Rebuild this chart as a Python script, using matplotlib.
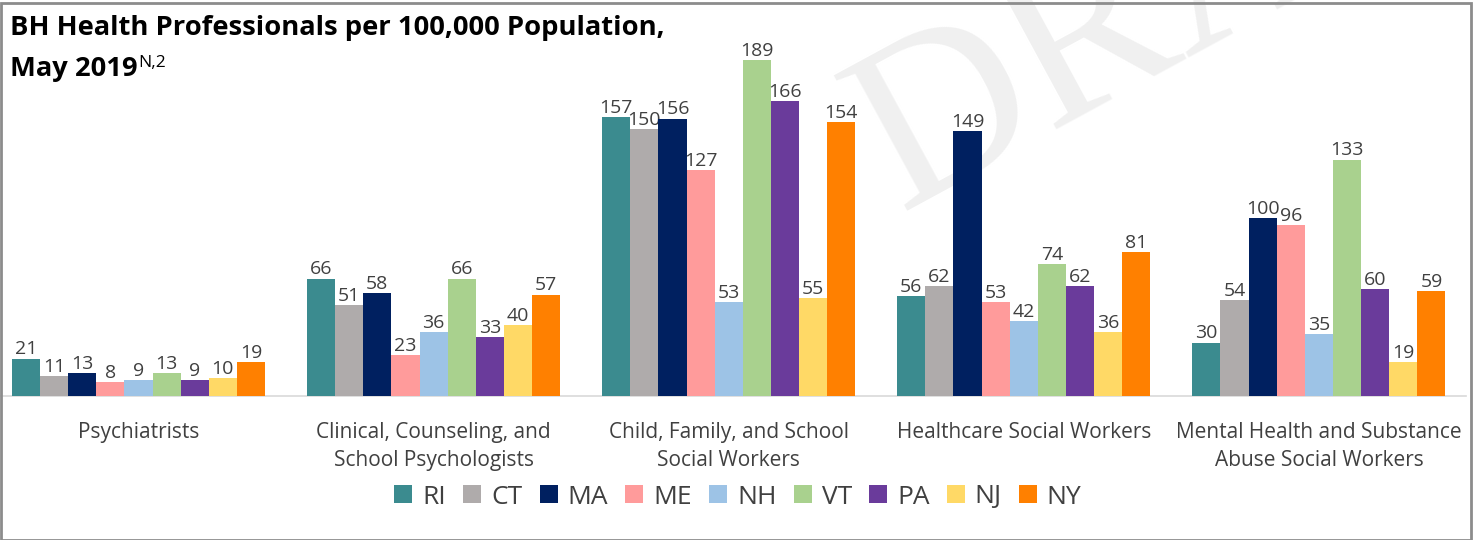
import matplotlib
matplotlib.use("Agg")
import matplotlib.pyplot as plt
from matplotlib.patches import Rectangle
import numpy as np

categories = ["Psychiatrists",
              "Clinical, Counseling, and\nSchool Psychologists",
              "Child, Family, and School\nSocial Workers",
              "Healthcare Social Workers",
              "Mental Health and Substance\nAbuse Social Workers"]
states = ["RI", "CT", "MA", "ME", "NH", "VT", "PA", "NJ", "NY"]
colors = ["#3B8B8F", "#AFABAB", "#002060", "#FF9B9B", "#9DC3E6",
          "#A9D18E", "#6A3B9B", "#FFD966", "#FF8000"]
values = {
    "RI": [21, 66, 157, 56, 30],
    "CT": [11, 51, 150, 62, 54],
    "MA": [13, 58, 156, 149, 100],
    "ME": [8, 23, 127, 53, 96],
    "NH": [9, 36, 53, 42, 35],
    "VT": [13, 66, 189, 74, 133],
    "PA": [9, 33, 166, 62, 60],
    "NJ": [10, 40, 55, 36, 19],
    "NY": [19, 57, 154, 81, 59],
}

plt.rcParams['font.family'] = ['Open Sans', 'DejaVu Sans']

W, H = 1473, 540
fig = plt.figure(figsize=(W / 100, H / 100), dpi=100)
fig.patch.set_facecolor("white")

ax_left, ax_right = 0, 1466
ax_bottom_px, ax_top_px = 396, 40
ax = fig.add_axes([ax_left / W, (H - ax_bottom_px) / H,
                   (ax_right - ax_left) / W, (ax_bottom_px - ax_top_px) / H])
ax.set_facecolor("none")

# watermark
fig.text(900 / W, 1 - 211 / H, "DRAFT", fontsize=169,
         family=["Liberation Serif", "DejaVu Serif"],
         color="#f0f0f0", rotation=28.5, rotation_mode="anchor",
         ha="left", va="baseline", zorder=-5)

n = len(states)
bw = 0.0953
x = np.arange(len(categories))
for i, s in enumerate(states):
    xs = x + (i - (n - 1) / 2) * bw
    ax.bar(xs, values[s], width=bw, color=colors[i], label=s, zorder=3)
    for xi, v in zip(xs, values[s]):
        ax.annotate(str(v), (xi, v), xytext=(0, 3), textcoords="offset points",
                    ha="center", va="baseline", fontsize=14, color="#404040")

px_per_unit = 295.1
ax.set_xlim(-138.5 / px_per_unit, -138.5 / px_per_unit + (ax_right - ax_left) / px_per_unit)
ax.set_ylim(0, (ax_bottom_px - ax_top_px) / 1.778)
ax.set_xticks(x)
ax.set_xticklabels(categories, fontsize=15, color="#404040", linespacing=1.45)
ax.tick_params(axis="x", length=0, pad=18.5)
ax.set_yticks([])
for sp in ["top", "right", "left"]:
    ax.spines[sp].set_visible(False)
ax.spines["bottom"].set_color("#D9D9D9")
ax.spines["bottom"].set_linewidth(1.2)

fig.legend(loc="center", bbox_to_anchor=(738 / W, 1 - 497 / H), ncol=9,
           frameon=False, fontsize=19, handlelength=0.68, handleheight=0.68,
           handletextpad=0.38, columnspacing=0.65, labelcolor="#404040")

tfam = ["Open Sans", "DejaVu Sans"]
fig.text(10 / W, 1 - 28 / H, "BH Health Professionals per 100,000 Population,",
         fontsize=19.7, fontweight="bold", family=tfam,
         color="black", va="center", ha="left")
t2 = fig.text(10 / W, 1 - 76 / H, "May 2019", fontsize=19.7, fontweight="bold",
              family=tfam, color="black", va="baseline", ha="left")
fig.canvas.draw()
bb = t2.get_window_extent()
fig.text((bb.x1 + 1) / W, 1 - 67 / H, "N,2", fontsize=12.5, family=tfam,
         color="black", va="baseline", ha="left")

fig.patches.append(Rectangle((0.5 / W, 0.5 / H), (W - 3) / W, (H - 3) / H,
                             transform=fig.transFigure, fill=False,
                             edgecolor="#8c8c8c", linewidth=2.0, zorder=10))

fig.savefig("out.png", dpi=100, facecolor="white")
